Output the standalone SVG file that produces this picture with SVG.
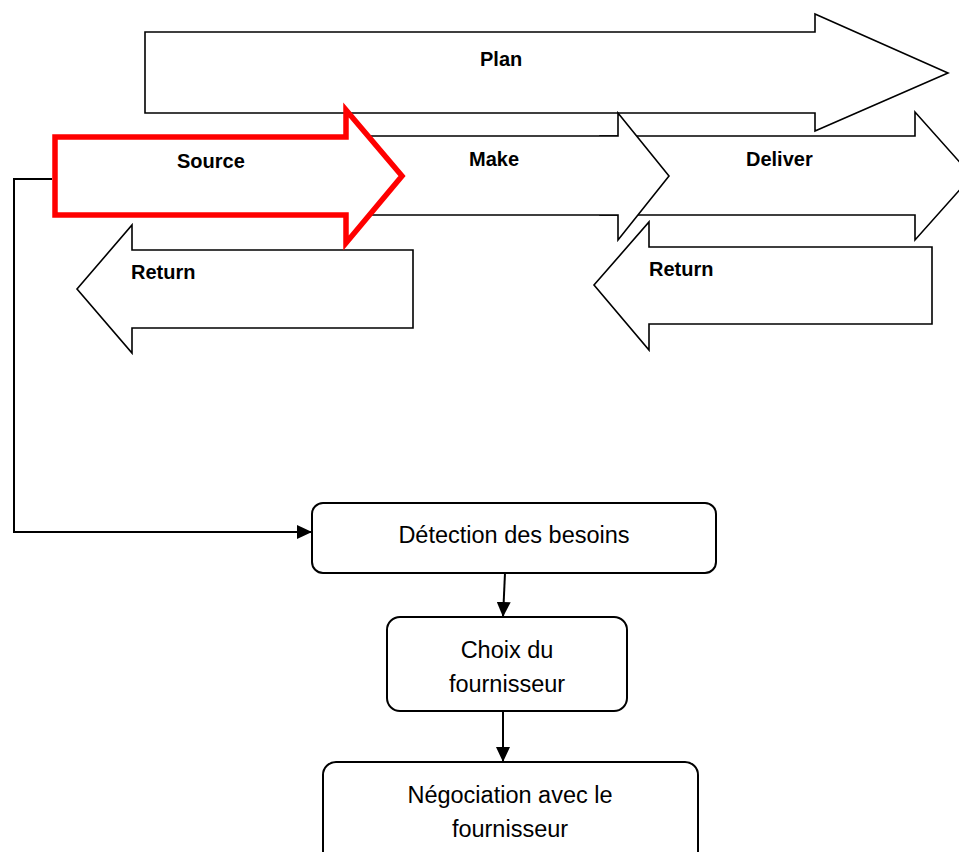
<svg xmlns="http://www.w3.org/2000/svg" width="959" height="852" viewBox="0 0 959 852">
<style>
.blk{fill:#fff;stroke:#000;stroke-width:1.6;stroke-linejoin:miter}
.red{fill:#fff;stroke:#ff0000;stroke-width:5.5;stroke-linejoin:miter}
.lbl{font-family:"Liberation Sans",Arial,sans-serif;font-weight:bold;font-size:20px;fill:#000}
.box{fill:#fff;stroke:#000;stroke-width:2}
.txt{font-family:"Liberation Sans",Arial,sans-serif;font-size:23.5px;fill:#000;text-anchor:middle}
.con{fill:none;stroke:#000;stroke-width:2}
</style>
<defs>
<marker id="ah" markerWidth="15" markerHeight="14" refX="15" refY="7" orient="auto" markerUnits="userSpaceOnUse">
<path d="M0,0 L15,7 L0,14 Z" fill="#000"/>
</marker>
</defs>
<g id="plan">
<path class="blk" d="M145,32 H815 V14 L948,73 L815,131 V113 H145 Z"/>
<text class="lbl" x="480" y="66">Plan</text>
</g>
<g id="deliver">
<path class="blk" d="M600,136 H915 V112 L972,176 L915,240 V215 H600 Z"/>
<text class="lbl" x="746" y="166">Deliver</text>
</g>
<g id="make">
<path class="blk" d="M300,136 H618 V113 L669,176 L618,240 V215 H300 Z"/>
<text class="lbl" x="469" y="166">Make</text>
</g>
<g id="return-right">
<path class="blk" d="M932,247 V324 H649 V350 L594,285 L649,222 V247 Z"/>
<text class="lbl" x="649" y="276">Return</text>
</g>
<g id="return-left">
<path class="blk" d="M413,250 V328 H132 V353 L77,289 L132,225 V250 Z"/>
<text class="lbl" x="131" y="279">Return</text>
</g>
<g id="source">
<path class="red" d="M55,137 H346 V110 L402,176 L346,243 V215 H55 Z"/>
<text class="lbl" x="177" y="168">Source</text>
</g>
<g id="connectors">
<path class="con" d="M52,179 H14 V532 H312" marker-end="url(#ah)"/>
<path class="con" d="M505,573 L503,617" marker-end="url(#ah)"/>
<path class="con" d="M503,711 L503,762" marker-end="url(#ah)"/>
</g>
<g id="detection">
<rect class="box" x="312" y="503" width="404" height="70" rx="11"/>
<text class="txt" x="514" y="543">Détection des besoins</text>
</g>
<g id="choix">
<rect class="box" x="387" y="617" width="240" height="94" rx="13"/>
<text class="txt" x="507" y="658">Choix du</text>
<text class="txt" x="507" y="692">fournisseur</text>
</g>
<g id="negociation">
<rect class="box" x="323" y="762" width="375" height="110" rx="13"/>
<text class="txt" x="510" y="803">Négociation avec le</text>
<text class="txt" x="510" y="837">fournisseur</text>
</g>
</svg>
